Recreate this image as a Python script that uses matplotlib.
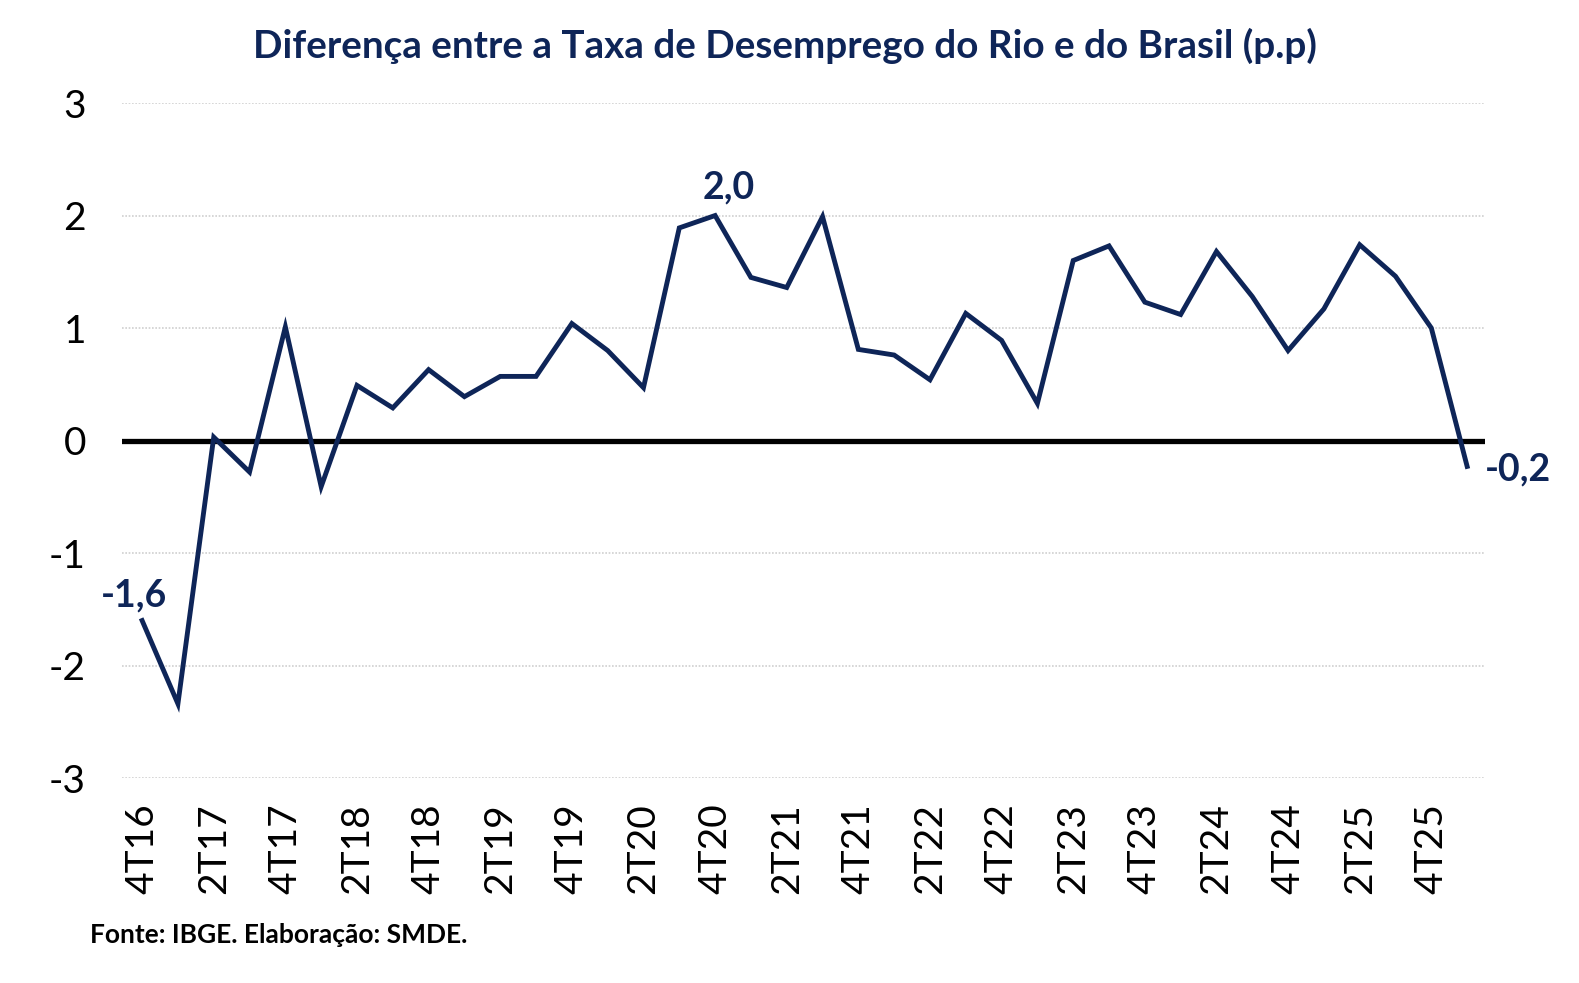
import matplotlib
matplotlib.use("Agg")
import matplotlib.pyplot as plt

quarters = ["4T16",
            "1T17", "2T17", "3T17", "4T17",
            "1T18", "2T18", "3T18", "4T18",
            "1T19", "2T19", "3T19", "4T19",
            "1T20", "2T20", "3T20", "4T20",
            "1T21", "2T21", "3T21", "4T21",
            "1T22", "2T22", "3T22", "4T22",
            "1T23", "2T23", "3T23", "4T23",
            "1T24", "2T24", "3T24", "4T24",
            "1T25", "2T25", "3T25", "4T25",
            "1T26"]
diff = [-1.6,
        -2.34, 0.03, -0.28, 1.01,
        -0.41, 0.49, 0.29, 0.63,
        0.39, 0.57, 0.57, 1.04,
        0.80, 0.47, 1.89, 2.0,
        1.45, 1.36, 1.99, 0.81,
        0.76, 0.54, 1.13, 0.89,
        0.33, 1.60, 1.73, 1.23,
        1.12, 1.68, 1.28, 0.80,
        1.17, 1.74, 1.46, 1.00,
        -0.23]
yticks = [-3, -2, -1, 0, 1, 2, 3]
title = "Diferença entre a Taxa de Desemprego do Rio e do Brasil (p.p)"
source = "Fonte: IBGE. Elaboração: SMDE."

navy = "#0e2558"
plt.rcParams["font.family"] = ["Lato", "DejaVu Sans"]

fig = plt.figure(figsize=(15.79, 9.83), dpi=100)
ax = fig.add_axes([0.0773, 0.2085, 0.9405 - 0.0773, 0.8952 - 0.2085])

x = list(range(len(quarters)))
ax.set_xlim(-0.56, len(quarters) - 0.5)
ax.set_ylim(-3, 3)
ax.set_yticks(yticks)
ax.set_yticklabels([str(v) for v in yticks], fontsize=28)
for v in yticks:
    if v != 0:
        ax.axhline(v, color="#cfcfcf", lw=1.2, ls=(0, (1, 1)), zorder=0)
ax.axhline(0, color="black", lw=3.8, zorder=1)

ax.plot(x, diff, color=navy, lw=3.5, zorder=3, solid_joinstyle="miter")

ax.set_xticks(x[::2])
ax.set_xticklabels(quarters[::2], rotation=90, fontsize=28)
ax.tick_params(axis="x", length=0, pad=18)
ax.tick_params(axis="y", length=0, pad=26)
for s in ax.spines.values():
    s.set_visible(False)

ax.annotate("-1,6", (x[0], diff[0]), xytext=(-6, 6), textcoords="offset points",
            ha="center", va="bottom", fontsize=27, fontweight="bold", color=navy)
i20 = quarters.index("4T20")
ax.annotate("2,0", (x[i20], diff[i20]), xytext=(10, 8), textcoords="offset points",
            ha="center", va="bottom", fontsize=27, fontweight="bold", color=navy)
ax.annotate("-0,2", (x[-1], diff[-1]), xytext=(13, -2), textcoords="offset points",
            ha="left", va="center", fontsize=27, fontweight="bold", color=navy,
            annotation_clip=False)

fig.text(0.497, 0.953, title, ha="center", va="center", fontsize=27.8,
         fontweight="bold", color=navy)
fig.text(0.057, 0.049, source, ha="left", va="center", fontsize=19,
         fontweight="bold", color="black")

fig.savefig("out.png", dpi=100)
